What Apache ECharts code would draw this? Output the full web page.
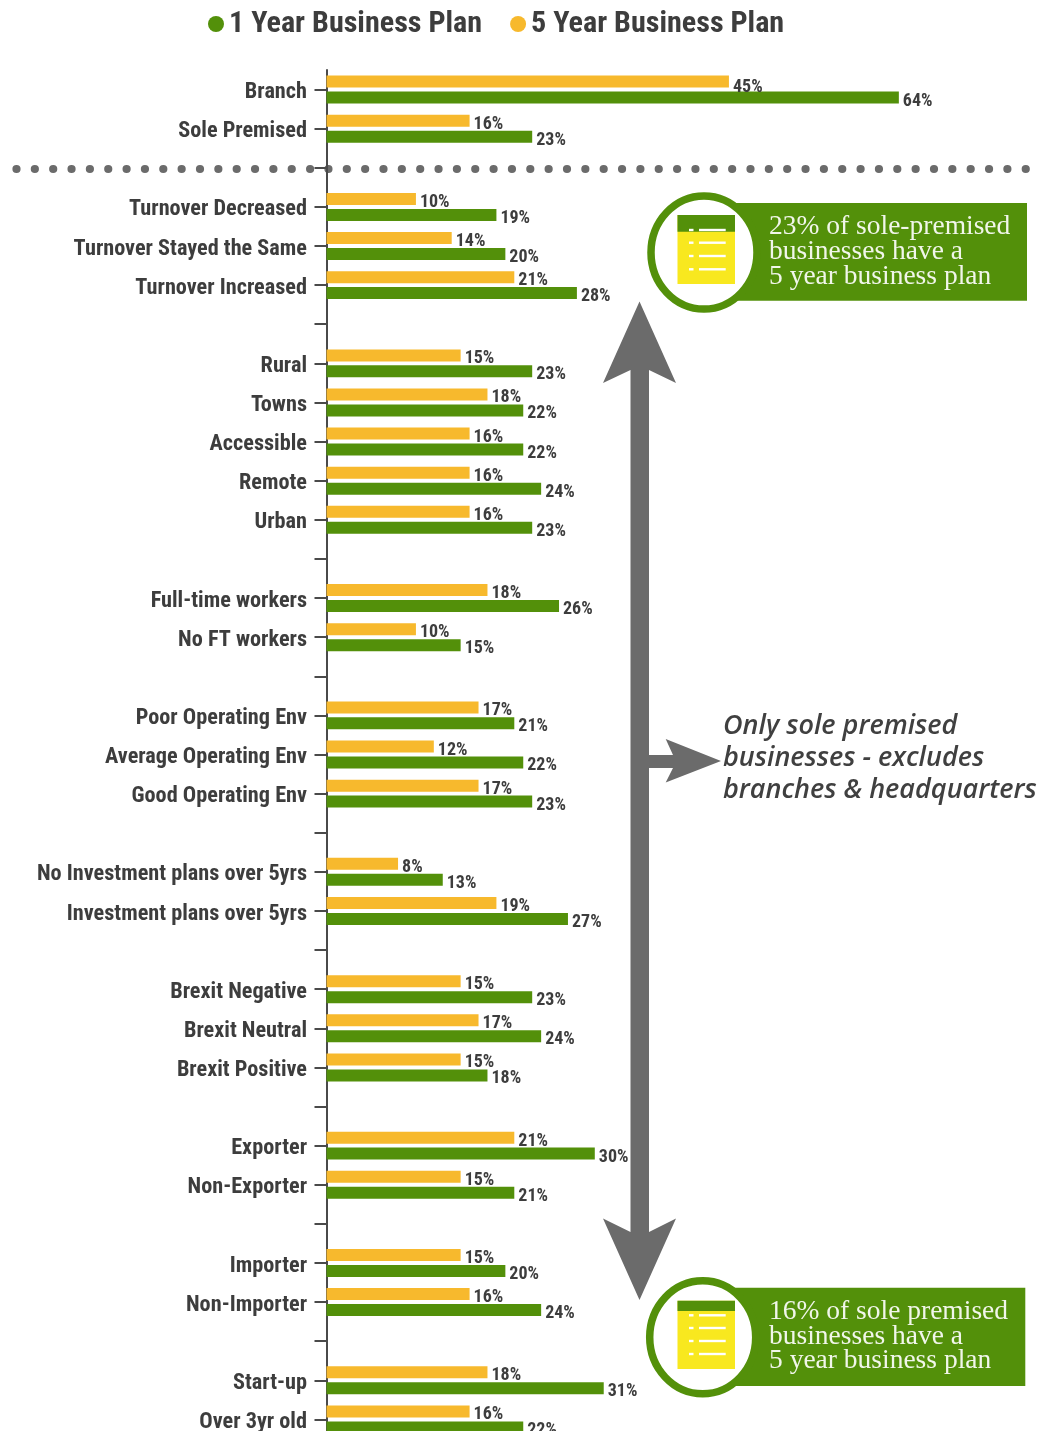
<!DOCTYPE html>
<html><head><meta charset="utf-8">
<style>html,body{margin:0;padding:0;background:#fff;overflow:hidden}#c{width:1039px;height:1431px}</style>
<script src="https://cdn.jsdelivr.net/npm/echarts@6/dist/echarts.min.js"></script></head>
<body><div id="c"></div>
<script>
const categories = ['Branch','Sole Premised','','Turnover Decreased','Turnover Stayed the Same','Turnover Increased','','Rural','Towns','Accessible','Remote','Urban','','Full-time workers','No FT workers','','Poor Operating Env','Average Operating Env','Good Operating Env','','No Investment plans over 5yrs','Investment plans over 5yrs','','Brexit Negative','Brexit Neutral','Brexit Positive','','Exporter','Non-Exporter','','Importer','Non-Importer','','Start-up','Over 3yr old'];
const oneYear = [64,23,null,19,20,28,null,23,22,22,24,23,null,26,15,null,21,22,23,null,13,27,null,23,24,18,null,30,21,null,20,24,null,31,22];
const fiveYear = [45,16,null,10,14,21,null,15,18,16,16,16,null,18,10,null,17,12,17,null,8,19,null,15,17,15,null,21,15,null,15,16,null,18,16];
const seriesNames = ['1 Year Business Plan','5 Year Business Plan'];
const calloutTop = ['23% of sole-premised','businesses have a','5 year business plan'];
const calloutBottom = ['16% of sole premised','businesses have a','5 year business plan'];
const noteLines = ['Only sole premised','businesses - excludes','branches & headquarters'];

const GREEN='#53900a', ORANGE='#f7b92d', GREY='#6b6b6b', INK='#3d3d3d', YELLOW='#f8e81f';
const cond='condensed';
function callout(cx,cy,rectTop,rectBottom,rectRight,iconTop,iconBottom,headBottom,lineYs,lines,textYs){
  const els=[
    {type:'rect',shape:{x:cx,y:rectTop,width:rectRight-cx,height:rectBottom-rectTop},style:{fill:GREEN}},
    {type:'ellipse',shape:{cx:cx,cy:cy,rx:53,ry:56.5},style:{fill:'#fff',stroke:GREEN,lineWidth:7.5}},
    {type:'rect',shape:{x:677.5,y:iconTop,width:57.5,height:iconBottom-iconTop},style:{fill:YELLOW}},
    {type:'rect',shape:{x:677.5,y:iconTop,width:57.5,height:headBottom-iconTop},style:{fill:GREEN}}
  ];
  lineYs.forEach(y=>{
    els.push({type:'rect',shape:{x:689,y:y-1.2,width:4.5,height:2.4},style:{fill:'#fff'}});
    els.push({type:'rect',shape:{x:699,y:y-1.2,width:26.7,height:2.4},style:{fill:'#fff'}});
  });
  lines.forEach((t,i)=>els.push({type:'text',x:769,y:textYs[i],style:{text:t,fill:'#f1f6ea',font:'27.5px "Liberation Serif"',textVerticalAlign:'middle'}}));
  return els;
}
const arrow=[
  {type:'polygon',shape:{points:[[639.5,301.5],[676,383],[649,370],[649,755],[673,755],[665.7,739],[721,761],[665.7,782.5],[673,768],[649,768],[649,1232],[676,1218.5],[639.5,1300],[603,1218.5],[630.5,1232],[630.5,370],[603,383]]},style:{fill:GREY}}
];
const note=noteLines.map((t,i)=>({type:'text',x:723,y:[726,758,790][i],style:{text:t,fill:'#404040',font:'italic 600 27px "Open Sans"',textVerticalAlign:'middle'}}));
const dots=[{type:'line',shape:{x1:16.5,y1:169,x2:1030,y2:169},style:{stroke:GREY,lineWidth:8.2,lineCap:'round',lineDash:[0,18.35]}}];

const chart=echarts.init(document.getElementById('c'),null,{renderer:'canvas'});
const lab={show:true,position:'right',distance:4,offset:[0,3.5],formatter:p=>p.value+'%',color:INK,fontFamily:'Roboto',fontStyle:cond,fontWeight:'bold',fontSize:18};
chart.setOption({
  animation:false,
  backgroundColor:'#fff',
  legend:{data:seriesNames,left:203,top:4,icon:'circle',itemWidth:16,itemHeight:16,itemGap:28,
    textStyle:{color:INK,fontFamily:'Roboto',fontStyle:cond,fontWeight:'bold',fontSize:30.1}},
  grid:{left:326.5,top:70,width:706.5,height:1369,containLabel:false,outerBoundsMode:'none'},
  xAxis:{type:'value',min:0,max:79,show:false},
  yAxis:{type:'category',data:categories,inverse:true,
    axisLine:{lineStyle:{color:'#4a4a4a',width:2}},
    axisTick:{show:true,alignWithLabel:true,length:12,lineStyle:{color:'#4a4a4a',width:2}},
    axisLabel:{interval:0,margin:19.5,verticalAlign:'top',lineHeight:6,color:INK,fontFamily:'Roboto',fontStyle:cond,fontWeight:'bold',fontSize:22.25}},
  series:[
    {name:seriesNames[1],type:'bar',data:fiveYear.map((v,i)=>i===0?{value:v,label:{offset:[0,6]}}:v),barWidth:12,barGap:'33%',itemStyle:{color:ORANGE},label:lab},
    {name:seriesNames[0],type:'bar',data:oneYear,barWidth:12,itemStyle:{color:GREEN},label:lab}
  ],
  graphic:{elements:[].concat(dots,arrow,note,
    callout(704,252.5,203,300.7,1027,215,284,231.7,[230,242.7,256,269.3],calloutTop,[227,252,277]),
    callout(702.7,1337.3,1287.7,1386,1025.3,1300.7,1369,1311,[1315.3,1328,1341,1354],calloutBottom,[1312,1337,1361]))}
});
</script></body></html>
